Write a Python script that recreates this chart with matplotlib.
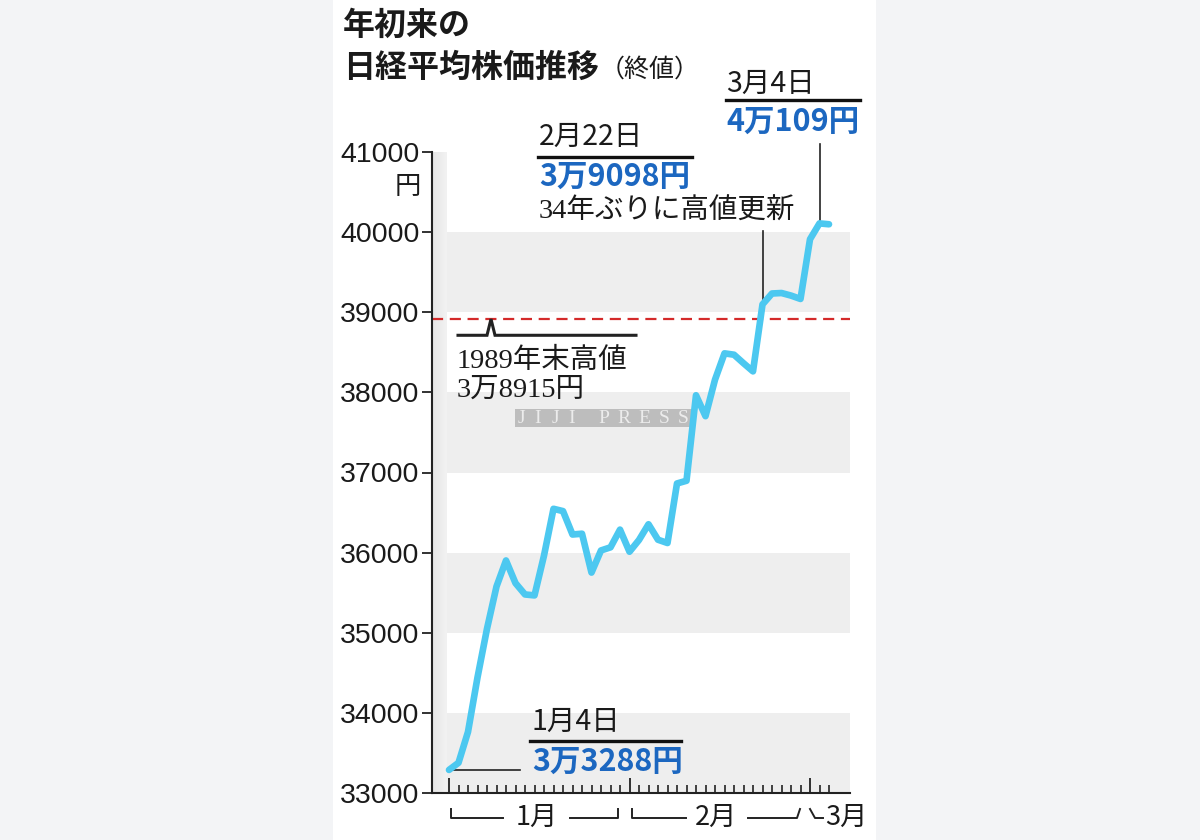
import matplotlib
matplotlib.use("Agg")
import matplotlib.pyplot as plt
import matplotlib.transforms as mtransforms
from matplotlib.patches import Rectangle
import numpy as np

# Nikkei 225 daily closes (yen), trading days from 2024-01-04 to 2024-03-05
dates = ["1/4", "1/5", "1/9", "1/10", "1/11", "1/12", "1/15", "1/16", "1/17", "1/18",
         "1/19", "1/22", "1/23", "1/24", "1/25", "1/26", "1/29", "1/30", "1/31",
         "2/1", "2/2", "2/5", "2/6", "2/7", "2/8", "2/9", "2/13", "2/14", "2/15",
         "2/16", "2/19", "2/20", "2/21", "2/22", "2/26", "2/27", "2/28", "2/29",
         "3/1", "3/4", "3/5"]
closes = [33288, 33377, 33763, 34442, 35050, 35577, 35902, 35619, 35478, 35466,
          35963, 36547, 36518, 36226, 36236, 35751, 36027, 36066, 36287,
          36011, 36158, 36354, 36161, 36120, 36863, 36897, 37964, 37703, 38158,
          38487, 38470, 38364, 38262, 39098, 39234, 39240, 39208, 39166,
          39911, 40109, 40098]
high_1989 = 38915
y_ticks = [33000, 34000, 35000, 36000, 37000, 38000, 39000, 40000, 41000]
month_labels = ["1月", "2月", "3月"]
month_starts = ["1/4", "2/1", "3/1"]

W, H = 1200, 840
SANS_JP = ["Noto Sans CJK JP", "DejaVu Sans"]
LATIN_SANS = ["Liberation Sans", "Noto Sans CJK JP"]
SERIF_MIX = ["Liberation Serif", "Noto Sans CJK JP"]
LINE_BLUE = "#4cc8f0"
TEXT_BLUE = "#1c67c0"


def fx(px):
    return px / W


def fy(py):
    return 1 - py / H


fig = plt.figure(figsize=(12, 8.4), dpi=100)
fig.patch.set_facecolor("#f3f4f6")
fig.patches.append(Rectangle((fx(333), 0), fx(876) - fx(333), 1,
                             transform=fig.transFigure, facecolor="white",
                             edgecolor="none", zorder=-5))

ax = fig.add_axes([fx(432), fy(793), fx(850) - fx(432), fy(152) - fy(793)])
ax.set_facecolor("white")

idx = np.arange(len(closes))
step = 9.5
x_left = -(449 - 432) / step
x_right = (850 - 449) / step

# alternating grey bands
band_x0 = (447 - 432) / (850 - 432)
for lo in (33000, 35000, 37000, 39000):
    ax.axhspan(lo, lo + 1000, xmin=band_x0, xmax=1, color="#eeeeee", lw=0, zorder=0)

# soft shadow strip along the value axis
grad = np.linspace(0.90, 0.95, 30)
strip = np.dstack([grad, grad, grad]).reshape(1, -1, 3)
ax.imshow(strip, extent=[x_left, (447 - 449) / step, y_ticks[0], y_ticks[-1]],
          aspect="auto", zorder=0.5, interpolation="bilinear")
ax.set_xlim(x_left, x_right)
ax.set_ylim(y_ticks[0], y_ticks[-1])

# 1989 year-end record
ax.axhline(high_1989, color="#d42a2a", lw=1.6, ls=(0, (5, 3)), zorder=2)

ax.plot(idx, closes, color=LINE_BLUE, lw=4.8, solid_joinstyle="round",
        solid_capstyle="round", zorder=4)

# spines and ticks
for s in ("top", "right"):
    ax.spines[s].set_visible(False)
for s in ("left", "bottom"):
    ax.spines[s].set_linewidth(1.5)
    ax.spines[s].set_color("#222222")

major_x = [dates.index(d) for d in month_starts]
ax.set_xticks(major_x)
ax.set_xticks([i for i in idx if i not in major_x], minor=True)
ax.tick_params(axis="x", which="major", direction="in", length=11, width=1.3,
               labelbottom=False, color="#222222")
ax.tick_params(axis="x", which="minor", direction="in", length=5.5, width=1.2,
               color="#222222")
ax.set_yticks(y_ticks)
ax.set_yticklabels([str(v) for v in y_ticks])
ax.tick_params(axis="y", direction="out", length=7, width=1.3, pad=2,
               color="#222222", labelsize=20.5, labelcolor="#1a1a1a")
for lab in ax.get_yticklabels():
    lab.set_family(LATIN_SANS)

fig.text(fx(408), fy(186), "円", fontsize=19, family=SANS_JP, ha="center",
         va="center", color="#1a1a1a")

# month brackets under the axis
bt = mtransforms.blended_transform_factory(ax.transData, fig.transFigure)
kw = dict(color="#222222", lw=1.4, transform=bt, clip_on=False)
yb, yh = fy(818), fy(809)


def to_idx(px):
    return (px - 449) / step


ax.plot([to_idx(451), to_idx(451), to_idx(503)], [yh, yb, yb], **kw)
ax.plot([to_idx(570), to_idx(618), to_idx(618)], [yb, yb, yh], **kw)
ax.plot([to_idx(632), to_idx(632), to_idx(686)], [yh, yb, yb], **kw)
ax.plot([to_idx(748), to_idx(797), to_idx(800)], [yb, yb, yh], **kw)
ax.plot([to_idx(810), to_idx(815), to_idx(823)], [yh, yb, yb], **kw)
fig.text(fx(537), fy(817), month_labels[0], fontsize=19.5, family=SANS_JP,
         ha="center", va="center", color="#1a1a1a")
fig.text(fx(716), fy(817), month_labels[1], fontsize=19.5, family=SANS_JP,
         ha="center", va="center", color="#1a1a1a")
fig.text(fx(825), fy(817), month_labels[2], fontsize=19.5, family=SANS_JP,
         ha="left", va="center", color="#1a1a1a")

# title
fig.text(fx(343), fy(26), "年初来の", fontsize=23, family=SANS_JP,
         weight="bold", ha="left", va="center", color="#1a1a1a")
fig.text(fx(343), fy(68), "日経平均株価推移", fontsize=23, family=SANS_JP,
         weight="bold", ha="left", va="center", color="#1a1a1a")
fig.text(fx(600), fy(70), "（終値）", fontsize=18, family=SANS_JP,
         ha="left", va="center", color="#1a1a1a")

# callouts
i_start = dates.index("1/4")
i_feb22 = dates.index("2/22")
i_mar4 = dates.index("3/4")
lkw = dict(color="#222222", lw=1.2, zorder=3, clip_on=False)

# March 4 record
ax.plot([i_mar4, i_mar4], [closes[i_mar4] + 20, 41100], **lkw)
fig.text(fx(726), fy(84), "3月4日", fontsize=20.5, family=SANS_JP,
         ha="left", va="center", color="#1a1a1a")
fig.add_artist(plt.Line2D([fx(726), fx(860)], [fy(100), fy(100)],
                          color="#111111", lw=2.4))
fig.text(fx(726), fy(122), "4万109円", fontsize=22, family=SANS_JP,
         weight="bold", ha="left", va="center", color=TEXT_BLUE)

# February 22 close above the 1989 high
ax.plot([i_feb22, i_feb22], [closes[i_feb22], 40010], **lkw)
fig.text(fx(539), fy(137), "2月22日", fontsize=20.5, family=SANS_JP,
         ha="left", va="center", color="#1a1a1a")
fig.add_artist(plt.Line2D([fx(538), fx(692)], [fy(157), fy(157)],
                          color="#111111", lw=2.4))
fig.text(fx(539), fy(177), "3万9098円", fontsize=22, family=SANS_JP,
         weight="bold", ha="left", va="center", color=TEXT_BLUE)
fig.text(fx(539), fy(212), "34年ぶりに高値更新", fontsize=20.5, family=SERIF_MIX,
         ha="left", va="center", color="#1a1a1a")

# 1989 high bracket
base = 33000 + (793 - 336) * 12.5
ax.plot([to_idx(458), to_idx(487), to_idx(491), to_idx(495), to_idx(636)],
        [base, base, high_1989, base, base], color="#222222", lw=2.2,
        zorder=3, solid_joinstyle="miter")
fig.text(fx(457), fy(361), "1989年末高値", fontsize=20.5, family=SERIF_MIX,
         ha="left", va="center", color="#1a1a1a", zorder=5)
fig.text(fx(457), fy(390), "3万8915円", fontsize=20.5, family=SERIF_MIX,
         ha="left", va="center", color="#1a1a1a", zorder=5)

# January 4 start
ax.plot([i_start, to_idx(520)], [closes[i_start], closes[i_start]], **lkw)
fig.text(fx(532), fy(722), "1月4日", fontsize=20.5, family=SANS_JP,
         ha="left", va="center", color="#1a1a1a")
fig.add_artist(plt.Line2D([fx(530), fx(681)], [fy(741), fy(741)],
                          color="#111111", lw=2.4))
fig.text(fx(532), fy(762), "3万3288円", fontsize=22, family=SANS_JP,
         weight="bold", ha="left", va="center", color=TEXT_BLUE)

# agency mark, tucked under the price line
ax.add_patch(Rectangle((fx(515), fy(427)), fx(692) - fx(515), fy(409) - fy(427),
                       transform=fig.transFigure, facecolor="#bdbdbd",
                       edgecolor="none", zorder=3, clip_on=False))
mark_x = [521, 538, 555, 572, 604, 624, 644, 664, 683]
for ch, px in zip("JIJIPRESS", mark_x):
    ax.text(fx(px), fy(418.5), ch, fontsize=14, family=["Liberation Serif"],
            ha="center", va="center", color="#ececec",
            transform=fig.transFigure, zorder=3.5)

fig.savefig("out.png", dpi=100, facecolor=fig.get_facecolor())
